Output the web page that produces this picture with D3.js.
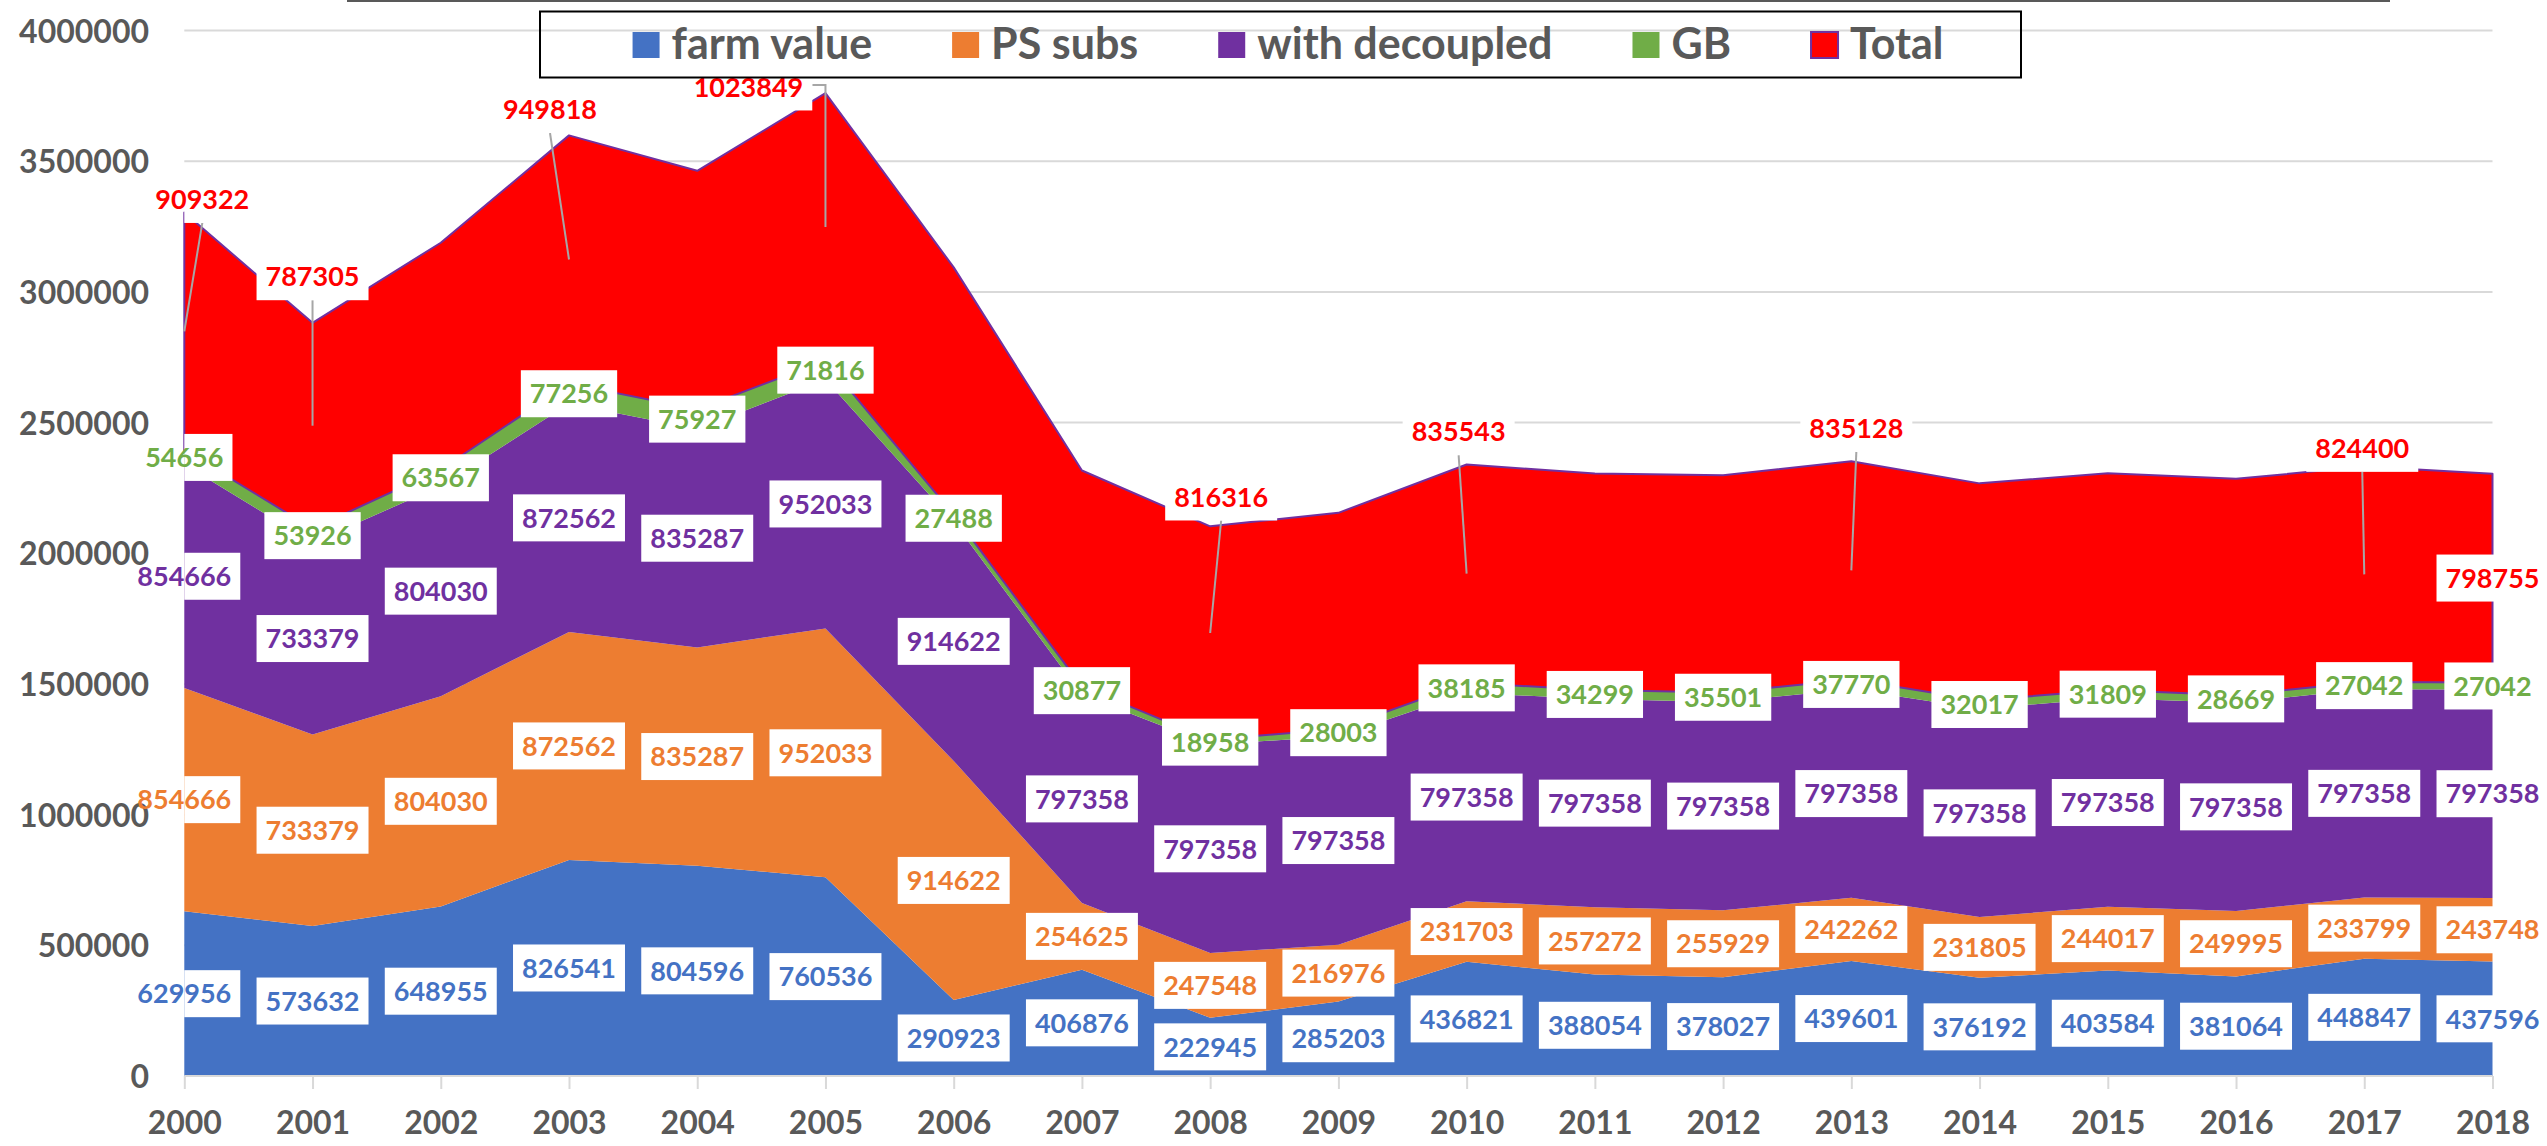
<!DOCTYPE html>
<html><head><meta charset="utf-8">
<script src="https://cdn.jsdelivr.net/npm/d3@7"></script>
<style>
body{margin:0;background:#fff;overflow:hidden}
text{font-family:Lato,"Open Sans",sans-serif;font-weight:700}
</style>
</head><body>
<svg id="c" width="2547" height="1146"></svg>
<script>
// ---- data ----
const years = [2000,2001,2002,2003,2004,2005,2006,2007,2008,2009,2010,2011,2012,2013,2014,2015,2016,2017,2018];
const farmValue = [629956,573632,648955,826541,804596,760536,290923,406876,222945,285203,436821,388054,378027,439601,376192,403584,381064,448847,437596];
const psSubs = [854666,733379,804030,872562,835287,952033,914622,254625,247548,216976,231703,257272,255929,242262,231805,244017,249995,233799,243748];
const withDecoupled = [854666,733379,804030,872562,835287,952033,914622,797358,797358,797358,797358,797358,797358,797358,797358,797358,797358,797358,797358];
const gb = [54656,53926,63567,77256,75927,71816,27488,30877,18958,28003,38185,34299,35501,37770,32017,31809,28669,27042,27042];
const total = [909322,787305,867400,949818,912000,1023849,946000,827000,816316,827000,835543,828000,832000,835128,830000,829000,827500,824400,798755];
const seriesNames = ["farm value","PS subs","with decoupled","GB","Total"];
const totalLabelYears = [2000,2001,2003,2005,2008,2010,2013,2017,2018];
const yTicks = [0,500000,1000000,1500000,2000000,2500000,3000000,3500000,4000000];

// ---- styling / layout ----
const colors = ["#4472C4","#ED7D31","#7030A0","#70AD47","#FF0000"];
const keys = ["farm","ps","dec","gb","total"];
// moved Total labels: pixel shift from band centre
const totalLabelShift = {2000:[18,-132],2001:[0,-149],2003:[-19,-150],2005:[-77,-140],2008:[11,-136],2010:[-8,-142],2013:[5,-142],2017:[-2,-126]};

const svg = d3.select("#c");
const x = d3.scalePoint().domain(years).range([184.3, 2492.5]);
const y = d3.scaleLinear().domain([0,4000000]).range([1076, 30.5]);
const plotLeft = x(2000);

const table = years.map((yr,i)=>({year:yr, farm:farmValue[i], ps:psSubs[i], dec:withDecoupled[i], gb:gb[i], total:total[i]}));
const stacked = d3.stack().keys(keys)(table);

// top thin line
svg.append("line").attr("x1",347).attr("x2",2390).attr("y1",1).attr("y2",1)
  .attr("stroke","#595959").attr("stroke-width",2);

// gridlines
svg.append("g").selectAll("line").data(yTicks.filter(d=>d>0)).join("line")
  .attr("x1",x(2000)).attr("x2",x(2018)).attr("y1",d=>y(d)).attr("y2",d=>y(d))
  .attr("stroke","#d9d9d9").attr("stroke-width",2);

// areas
const area = d3.area().x(d=>x(d.data.year)).y0(d=>y(d[0])).y1(d=>y(d[1]));
svg.append("g").selectAll("path").data(stacked).join("path")
  .attr("d",area)
  .attr("fill",(d,i)=>colors[i])
  .attr("stroke",(d,i)=>i===4?"#7030A0":"none")
  .attr("stroke-width",2).attr("stroke-linejoin","round");

// x axis
const xAxis = d3.axisBottom(x).tickSize(13).tickPadding(22);
const gx = svg.append("g").attr("transform",`translate(0,${y(0)})`).call(xAxis);
gx.select(".domain").attr("stroke","#d9d9d9").attr("stroke-width",2).attr("d",`M${x(2000)},0H${x(2018)}`);
gx.selectAll(".tick line").attr("stroke","#d9d9d9").attr("stroke-width",2);
gx.selectAll(".tick text").attr("fill","#595959").style("font-size","32px")
  .style("font-family","Lato").style("font-weight","700");

// y axis
const yAxis = d3.axisLeft(y).tickValues(yTicks).tickSize(0).tickPadding(0).tickFormat(d3.format("d"));
const gy = svg.append("g").attr("transform",`translate(149,0)`).call(yAxis);
gy.select(".domain").remove();
gy.selectAll(".tick text").attr("fill","#595959").style("font-size","32px")
  .style("font-family","Lato").style("font-weight","700").attr("dy","0.36em");

// data labels
const labels = [];
stacked.forEach((s,si)=>{
  s.forEach((d,i)=>{
    const yr = d.data.year;
    if (si===4 && !totalLabelYears.includes(yr)) return;
    const ax = x(yr), ay = y((d[0]+d[1])/2);
    const sh = (si===4 && totalLabelShift[yr]) ? totalLabelShift[yr] : [0,0];
    labels.push({si, text:String(d[1]-d[0]), ax, ay, cx:ax+sh[0], cy:ay+sh[1], moved: sh[0]!==0||sh[1]!==0});
  });
});
const gl = svg.append("g");
const leaderG = gl.append("g");
const lab = gl.selectAll("g.lab").data(labels).join("g").attr("class","lab");
lab.append("rect").attr("fill","#fff");
lab.append("text").attr("x",d=>d.cx).attr("y",d=>d.cy).attr("dy","0.36em")
  .attr("text-anchor","middle").style("font-size","27px")
  .attr("fill",d=>colors[d.si]).text(d=>d.text);
lab.each(function(d){
  const w = d3.select(this).select("text").node().getComputedTextLength()+18;
  const h = 47;
  d.w=w; d.h=h;
  const left = Math.max(d.cx-w/2, plotLeft);
  const right = d.cx+w/2;
  d3.select(this).select("rect").attr("x",left).attr("y",d.cy-h/2).attr("width",right-left).attr("height",h);
});
labels.filter(d=>d.moved).forEach(d=>{
  let pts;
  if (d.ax >= d.cx-d.w/2 && d.ax <= d.cx+d.w/2) {
    pts = [[d.cx, d.cy+d.h/2],[d.ax,d.ay]];
  } else {
    const sx = d.ax > d.cx ? d.cx+d.w/2 : d.cx-d.w/2;
    pts = [[sx, d.cy-2],[d.ax, d.cy-2],[d.ax,d.ay]];
  }
  leaderG.append("path").attr("d",d3.line()(pts)).attr("fill","none")
    .attr("stroke","#a6a6a6").attr("stroke-width",2);
});

// legend
const lg = svg.append("g");
lg.append("rect").attr("x",540).attr("y",11.5).attr("width",1481).attr("height",66)
  .attr("fill","none").attr("stroke","#000").attr("stroke-width",2);
const items = lg.selectAll("g.li").data(seriesNames).join("g").attr("class","li");
items.append("rect").attr("y",32).attr("width",27).attr("height",26)
  .attr("fill",(d,i)=>colors[i]).attr("stroke",(d,i)=>i===4?"#7030A0":"none").attr("stroke-width",2);
items.append("text").attr("x",39).attr("y",59).style("font-size","43px").attr("fill","#595959").text(d=>d);
let widths = [];
items.each(function(){ widths.push(39 + d3.select(this).select("text").node().getComputedTextLength()); });
const gap = 80;
const totalW = d3.sum(widths) + gap*(widths.length-1);
let cur = 1288 - totalW/2;
items.each(function(d,i){ d3.select(this).attr("transform",`translate(${cur},0)`); cur += widths[i]+gap; });
</script>
</body></html>
